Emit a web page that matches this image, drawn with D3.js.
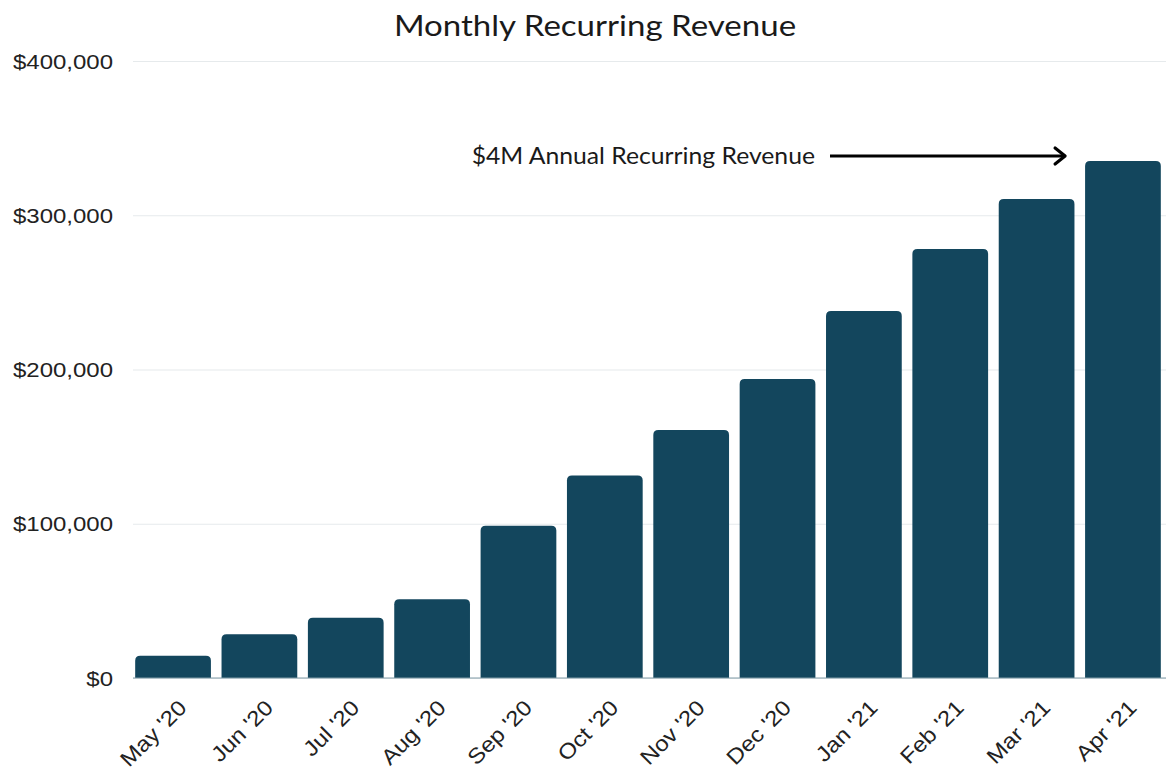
<!DOCTYPE html>
<html>
<head>
<meta charset="utf-8">
<script src="https://cdn.jsdelivr.net/npm/d3@7"></script>
<style>
  body { margin: 0; background: white; }
</style>
</head>
<body>
<svg id="chart"></svg>
<script>
// data
var months = ["May '20", "Jun '20", "Jul '20", "Aug '20", "Sep '20", "Oct '20",
              "Nov '20", "Dec '20", "Jan '21", "Feb '21", "Mar '21", "Apr '21"];
var mrr = [14500, 28300, 39100, 51000, 98700, 131200,
           160800, 193800, 237900, 278100, 310500, 335200];
var yTicks = [0, 100000, 200000, 300000, 400000];
var chartTitle = "Monthly Recurring Revenue";
var noteText = "$4M Annual Recurring Revenue";

var width = 1167, height = 770;
var margin = { top: 61, right: 1, bottom: 92, left: 130 };

var svg = d3.select("#chart")
    .attr("width", width)
    .attr("height", height)
    .style("background-color", "white");

var xScale = d3.scaleBand()
    .domain(months)
    .range([margin.left, width - margin.right])
    .paddingInner(0.123)
    .paddingOuter(0.06);

var yScale = d3.scaleLinear()
    .domain([0, 400000])
    .range([height - margin.bottom, margin.top]);

// gridlines + y labels
var yAxis = svg.append("g")
    .attr("transform", "translate(" + margin.left + ",0)")
    .call(d3.axisLeft(yScale)
        .tickValues(yTicks)
        .tickSize(-(width - margin.left - margin.right))
        .tickPadding(14)
        .tickFormat(d => "$" + d3.format(",")(d)));

yAxis.select(".domain").remove();
yAxis.selectAll(".tick line")
    .attr("x1", 3)
    .attr("stroke", "#e6eaec")
    .attr("stroke-width", 1.2);
yAxis.selectAll(".tick text")
    .style("font-family", "'Liberation Sans', Arial, sans-serif")
    .style("font-size", "20px")
    .attr("fill", "#222")
    .attr("transform", "scale(1.2,1)")
    .attr("x", -17 / 1.2)
    .attr("dy", "0.36em");

// bars with rounded tops
function barPath(d, i) {
    var x0 = xScale(months[i]);
    var w = xScale.bandwidth();
    var y0 = yScale(0);
    var y1 = yScale(d);
    var r = 5;
    return "M" + x0 + "," + y0 +
        "V" + (y1 + r) +
        "Q" + x0 + "," + y1 + " " + (x0 + r) + "," + y1 +
        "H" + (x0 + w - r) +
        "Q" + (x0 + w) + "," + y1 + " " + (x0 + w) + "," + (y1 + r) +
        "V" + y0 + "Z";
}

svg.append("g")
    .selectAll("path")
    .data(mrr)
    .join("path")
    .attr("d", barPath)
    .attr("fill", "#13465d");

// baseline
svg.append("line")
    .attr("x1", margin.left + 3)
    .attr("x2", width - margin.right)
    .attr("y1", yScale(0))
    .attr("y2", yScale(0))
    .attr("stroke", "#7f9aa6")
    .attr("stroke-width", 1);

// x labels, rotated
var xAxis = svg.append("g")
    .attr("transform", "translate(0," + yScale(0) + ")")
    .call(d3.axisBottom(xScale).tickSize(0).tickPadding(0));

xAxis.select(".domain").remove();
xAxis.selectAll(".tick text")
    .style("font-family", "'Liberation Sans', Arial, sans-serif")
    .style("font-size", "21.5px")
    .attr("fill", "#222")
    .style("text-anchor", "end")
    .attr("dy", "0")
    .attr("y", 0)
    .attr("transform", "translate(15,31) rotate(-45) scale(1.12,1)");

// title
svg.append("text")
    .attr("transform", "translate(595,36) scale(1.12,1)")
    .attr("text-anchor", "middle")
    .style("font-family", "Lato, sans-serif")
    .style("font-size", "29.5px")
    .attr("fill", "#1a1a1a")
    .text(chartTitle);

// annotation and arrow pointing at the last bar
var last = months[months.length - 1];
var arrowY = yScale(mrr[mrr.length - 1]) - 5;
var arrowEnd = xScale(last) - 20;

svg.append("text")
    .attr("transform", "translate(815," + (arrowY + 8) + ") scale(1.03,1)")
    .attr("text-anchor", "end")
    .style("font-family", "Lato, sans-serif")
    .style("font-size", "24px")
    .attr("fill", "#1a1a1a")
    .text(noteText);

svg.append("line")
    .attr("x1", 830)
    .attr("x2", arrowEnd)
    .attr("y1", arrowY)
    .attr("y2", arrowY)
    .attr("stroke", "#000")
    .attr("stroke-width", 3);

svg.append("path")
    .attr("d", "M" + (arrowEnd - 10) + "," + (arrowY - 8) +
        "L" + arrowEnd + "," + arrowY +
        "L" + (arrowEnd - 10) + "," + (arrowY + 8))
    .attr("fill", "none")
    .attr("stroke", "#000")
    .attr("stroke-width", 3.2)
    .attr("stroke-linecap", "round")
    .attr("stroke-linejoin", "round");
</script>
</body>
</html>
